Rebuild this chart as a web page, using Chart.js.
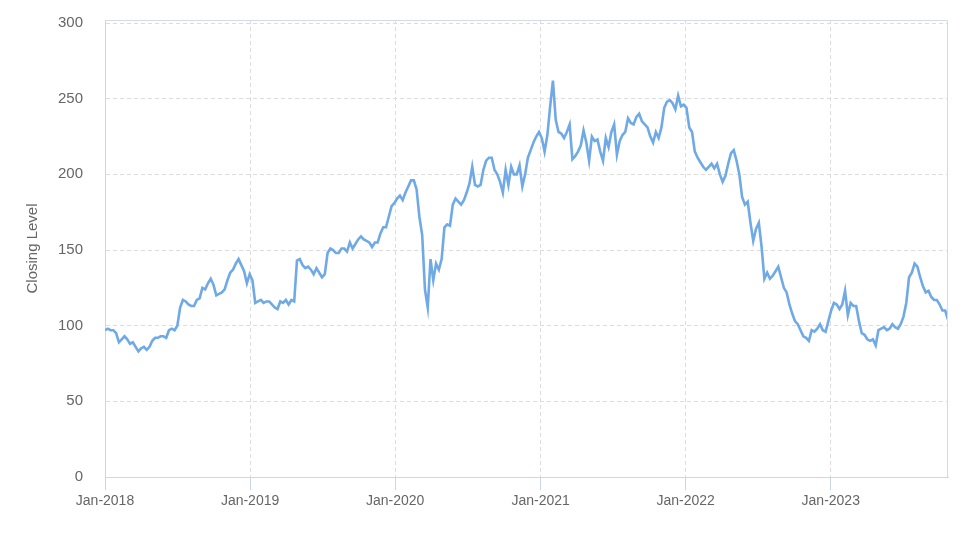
<!DOCTYPE html>
<html>
<head>
<meta charset="utf-8">
<script src="https://cdn.jsdelivr.net/npm/chart.js@4.4.0/dist/chart.umd.min.js"></script>
<style>
  html, body { margin: 0; padding: 0; background: #ffffff; }
  #wrap { width: 974px; height: 547px; }
</style>
</head>
<body>
<div id="wrap"><canvas id="c" width="974" height="547"></canvas></div>
<script>
// ---- data (weekly closing levels) ----
const startDate = '2018-01-01';
const stepDays = 7;
const closingLevels = [
  97,98,97,97,95,89,91,93,91,88,
  89,86,83,85,86,84,86,90,92,92,
  93,93,92,97,98,97,100,112,117,116,
  114,113,113,117,118,125,124,128,131,127,
  120,121,122,124,130,135,137,141,144,140,
  136,128,134,130,115,116,117,115,116,116,
  114,112,111,116,115,117,114,117,116,143,
  144,140,138,139,137,134,138,135,132,134,
  148,151,150,148,148,151,151,149,155,151,
  154,157,159,157,156,155,152,155,155,161,
  165,165,172,179,181,184,186,183,188,192,
  196,196,190,172,160,124,112,144,130,141,
  137,144,165,167,166,180,184,182,180,183,
  188,194,205,193,192,193,203,209,211,211,
  203,200,195,188,203,193,205,200,200,206,
  192,200,211,216,221,225,228,224,215,226,
  245,262,236,228,227,224,228,233,210,212,
  215,219,229,221,209,225,222,223,215,209,
  224,218,228,233,213,222,226,228,237,234,
  233,238,240,235,233,231,225,221,228,224,
  231,244,248,249,247,243,252,245,246,244,
  231,228,215,211,208,205,203,205,207,204,
  207,200,195,199,207,214,216,209,200,185,
  180,182,168,156,164,168,152,131,135,131,
  133,136,139,132,125,122,114,108,103,101,
  97,93,92,90,97,96,98,101,97,96,
  103,110,115,114,111,114,123,107,115,113,
  113,103,95,94,91,90,91,87,97,98,
  99,97,98,101,99,98,101,106,115,132,
  135,141,139,132,126,122,123,119,117,117,
  114,110,110,104
];
const xTickDates = ['2018-01-01','2019-01-01','2020-01-01','2021-01-01','2022-01-01','2023-01-01'];
const xTickLabels = ['Jan-2018','Jan-2019','Jan-2020','Jan-2021','Jan-2022','Jan-2023'];
const yTickValues = [0, 50, 100, 150, 200, 250, 300];
const yAxisTitle = 'Closing Level';

// ---- build ----
const DAY = 86400000;
const t0 = Date.parse(startDate + 'T00:00:00Z');
const dayOffset = s => Math.round((Date.parse(s + 'T00:00:00Z') - t0) / DAY);
const points = closingLevels.map((v, i) => ({ x: i * stepDays, y: v }));
const xTickPos = xTickDates.map(dayOffset);
const labelFor = {};
xTickPos.forEach((p, i) => { labelFor[p] = xTickLabels[i]; });

const frame = {
  id: 'frame',
  afterDraw(chart) {
    const { ctx, chartArea: a } = chart;
    ctx.save();
    ctx.setLineDash([]);
    ctx.strokeStyle = '#d5dbe5';
    ctx.lineWidth = 1;
    ctx.beginPath();
    ctx.moveTo(a.left, a.top + 0.5);
    ctx.lineTo(a.right - 0.5, a.top + 0.5);
    ctx.lineTo(a.right - 0.5, a.bottom);
    ctx.stroke();
    ctx.restore();
  }
};

new Chart(document.getElementById('c'), {
  type: 'line',
  data: {
    datasets: [{
      data: points,
      borderColor: '#6fa9e6',
      borderWidth: 2.6,
      pointRadius: 0,
      tension: 0,
      fill: false
    }]
  },
  options: {
    responsive: false,
    animation: false,
    devicePixelRatio: 1,
    layout: { padding: { top: 20, right: 26, left: 0, bottom: 0 } },
    plugins: { legend: { display: false }, tooltip: { enabled: false } },
    scales: {
      x: {
        type: 'linear',
        min: 0,
        max: points[points.length - 1].x,
        afterBuildTicks(scale) { scale.ticks = xTickPos.map(v => ({ value: v })); },
        afterFit(scale) { scale.height = 70; },
        ticks: {
          autoSkip: false, maxRotation: 0, padding: 3,
          color: '#666666',
          font: { family: 'Liberation Sans, Arial, sans-serif', size: 14 },
          callback: v => labelFor[v] || ''
        },
        grid: {
          color: '#dcdcdc', lineWidth: 1,
          drawTicks: true, tickLength: 13, tickColor: '#ccd6eb', tickBorderDash: []
        },
        border: { display: true, color: '#ccd6eb', width: 1, dash: [4, 3] }
      },
      y: {
        min: 0,
        max: 302,
        afterBuildTicks(scale) { scale.ticks = yTickValues.map(v => ({ value: v })); },
        afterFit(scale) { scale.width = 105; },
        ticks: {
          padding: 4,
          color: '#666666',
          font: { family: 'Liberation Sans, Arial, sans-serif', size: 15 }
        },
        grid: {
          color: '#dcdcdc', lineWidth: 1,
          drawTicks: true, tickLength: 18, tickColor: 'rgba(0,0,0,0)'
        },
        border: { display: true, color: '#ccd6eb', width: 1, dash: [4, 3] },
        title: {
          display: true, text: yAxisTitle, color: '#666666',
          font: { family: 'Liberation Sans, Arial, sans-serif', size: 15 },
          padding: { top: 24, bottom: 0 }
        }
      }
    }
  },
  plugins: [frame]
});
</script>
</body>
</html>
